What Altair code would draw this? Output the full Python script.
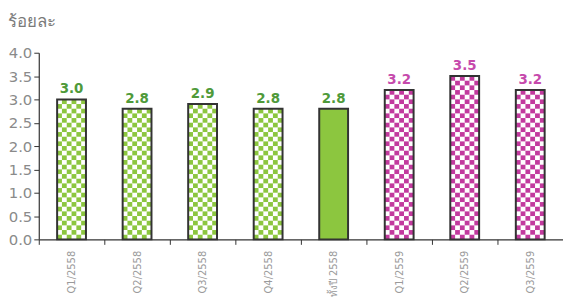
import altair as alt
import pandas as pd

categories = ["Q1/2558", "Q2/2558", "Q3/2558", "Q4/2558", "ทั้งปี 2558", "Q1/2559", "Q2/2559", "Q3/2559"]
values = [3.0, 2.8, 2.9, 2.8, 2.8, 3.2, 3.5, 3.2]
groups = ["g", "g", "g", "g", "solid", "m", "m", "m"]
y_ticks = [0.0, 0.5, 1.0, 1.5, 2.0, 2.5, 3.0, 3.5, 4.0]

GREEN = "#8cc63f"
MAG = "#c23a9e"

df = pd.DataFrame({"cat": categories, "value": values, "group": groups})
df["label"] = [f"{v:.1f}" for v in values]

# checkerboard cells derived from each bar value (decorative pattern)
cells = []
for c, v, g in zip(categories, values, groups):
    if g == "solid":
        continue
    nrows = int(round(v * 10))
    for r in range(nrows):
        for col in range(6):
            if (r + col) % 2 == 0:
                cells.append({"cat": c, "col": col, "y0": r / 10, "y1": (r + 1) / 10, "group": g})
cells = pd.DataFrame(cells)

FONT = "DejaVu Sans"
W = 528
STEP = W / 8
xscale = alt.Scale(domain=categories, paddingInner=0.56, paddingOuter=0.28)

xaxis = alt.Axis(title=None, labelAngle=-90, labelFont=FONT, labelFontSize=10,
                 labelColor="#9a9a9a", domainColor="#333333", tickColor="#333333",
                 tickOffset=-STEP / 2, labelOffset=STEP / 2,
                 tickSize=5, labelPadding=6, domainWidth=1.2)
yscale = alt.Scale(domain=[0, 4], nice=False)
yaxis = alt.Axis(title="ร้อยละ", titleAngle=0, titleAlign="left", titleBaseline="bottom",
                 titleX=-31, titleY=-22, titleFont=FONT, titleFontSize=17, titleColor="#7a7a7a",
                 titleFontWeight="normal",
                 values=y_ticks, tickCount=20, format=".1f", labelFont=FONT,
                 labelFontSize=15, labelColor="#8a8a8a", grid=False, domainColor="#333333",
                 labelOverlap=False,
                 tickColor="#333333", tickSize=5, labelPadding=2, domainWidth=1.2)

X = alt.X("cat:N", scale=xscale, sort=categories, axis=xaxis)

base_fill = alt.Chart(df).mark_bar(color="white").encode(
    x=X,
    y=alt.Y("value:Q", scale=yscale, axis=yaxis),
    fill=alt.Fill("group:N", scale=alt.Scale(domain=["g", "solid", "m"], range=["#ffffff", GREEN, "#ffffff"]), legend=None),
)

checks = alt.Chart(cells).mark_bar().encode(
    x=X,
    xOffset=alt.XOffset("col:O", scale=alt.Scale(paddingInner=0, paddingOuter=0)),
    y=alt.Y("y0:Q", scale=yscale, axis=yaxis),
    y2="y1:Q",
    color=alt.Color("group:N", scale=alt.Scale(domain=["g", "m"], range=[GREEN, MAG]), legend=None),
)

outline = alt.Chart(df).mark_bar(fillOpacity=0, stroke="#333333", strokeWidth=2).encode(
    x=X,
    y=alt.Y("value:Q", scale=yscale, axis=yaxis),
)

labels = alt.Chart(df).mark_text(dy=-10, font=FONT, fontSize=13.5, fontWeight="bold").encode(
    x=X,
    y=alt.Y("value:Q", scale=yscale, axis=yaxis),
    text="label:N",
    color=alt.Color("group:N", scale=alt.Scale(domain=["g", "solid", "m"], range=["#4f9a3a", "#4f9a3a", "#c64aac"]), legend=None),
)

chart = alt.layer(base_fill, checks, outline, labels).resolve_scale(color="independent", fill="independent").properties(
    width=W, height=188, padding={"left": 0, "top": 4, "right": 0, "bottom": 0}
).configure_view(stroke=None)

chart.save("out.html", embed_options={"renderer": "svg", "actions": False})
